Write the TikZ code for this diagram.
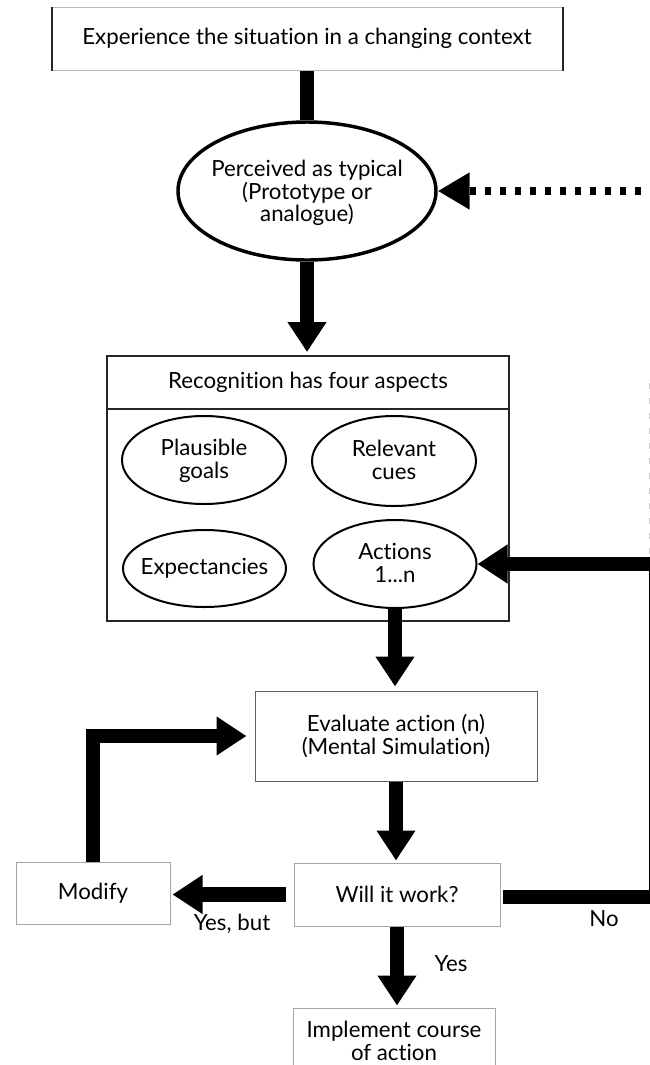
\documentclass[tikz,border=0pt]{standalone}
\usepackage{fontspec}
\setmainfont{Lato}[Ligatures=NoCommon]
\usetikzlibrary{shapes.geometric,arrows.meta,calc}
\begin{document}
\begin{tikzpicture}[x=0.75pt,y=-0.75pt,
  font=\fontsize{16.7pt}{17pt}\selectfont,
  box/.style={draw=gray!75!black, line width=0.75pt, rectangle, inner sep=0pt, align=center},
  recbox/.style={draw=black!85, line width=1.5pt, rectangle, inner sep=0pt, align=center},
  ell/.style={ellipse, draw=black, inner sep=0pt, line width=1.5pt},
  txt/.style={inner sep=0pt, align=center},
  bigarrow/.style={line width=11pt, line join=miter, -{Triangle[length=22.5pt,width=27.75pt]}},
  dotarrow/.style={line width=6pt, dash pattern=on 4.5pt off 6.75pt, -{Triangle[length=24pt,width=26.25pt]}},
]
\useasboundingbox (0,0) rectangle (650,1065);

% top box
\node[box, draw=gray!55, minimum width=382.5pt, minimum height=47.25pt] (top) at (307,38.5) {Experience the situation in a changing context};
\draw[line width=1.5pt, black!85] (top.north west) -- (top.south west);
\draw[line width=1.5pt, black!85] (top.north east) -- (top.south east);

% perceived ellipse
\node[ell, line width=2.6pt, minimum width=193.5pt, minimum height=103.5pt] (perc) at (307,191) {};
\node[txt] (perct) at (307,193) {Perceived as typical\\(Prototype or\\analogue)};

% recognition box
\node[recbox, minimum width=301.5pt, minimum height=198.75pt] (rec) at (308,488.5) {};
\node[recbox, minimum width=301.5pt, minimum height=39.75pt] (rechead) at (308,382.5) {Recognition has four aspects};

\node[ell, minimum width=123pt, minimum height=66pt] (pg) at (204,460) {};
\node[txt] (pgt) at (204,461) {Plausible\\goals};
\node[ell, minimum width=123pt, minimum height=67.5pt] (rc) at (394,461) {};
\node[txt] (rct) at (394,460) {Relevant\\cues};
\node[ell, minimum width=122.25pt, minimum height=57.75pt] (ex) at (204.5,568.5) {};
\node[txt] (ext) at (204.5,568.5) {Expectancies};
\node[ell, minimum width=122.25pt, minimum height=66pt] (ac) at (395,564) {};
\node[txt] (act) at (395,563) {Actions\\1...n};

% lower boxes
\node[box, minimum width=211.5pt, minimum height=67.5pt] (eval) at (396,736) {Evaluate action (n)\\(Mental Simulation)};
\node[box, draw=gray!70, minimum width=154.5pt, minimum height=47.25pt] (will) at (397,894.5) {Will it work?};
\node[box, draw=gray!70, minimum width=115.5pt, minimum height=46.5pt] (mod) at (93,893) {Modify};
\node[box, draw=gray!70, minimum width=151.5pt, minimum height=49.5pt] (impl) at (394,1041) {Implement course\\of action};

% labels
\node[txt] (yesbut) at (232,924) {Yes, but};
\node[txt] (no) at (604,919) {No};
\node[txt] (yes) at (451,964) {Yes};

% connectors
\draw[line width=11pt] (top.south) -- (perc.north);
\draw[bigarrow, shorten >=2.25pt] (perc.south) -- (perc.south |- rechead.north);

\coordinate (fb) at (662,560);
\draw[dotarrow] (fb) |- (perc.east);
\draw[gray!40, line width=0.75pt, dash pattern=on 4.5pt off 6.75pt] (649.5,383) -- (649.5,557);

\draw[bigarrow, shorten >=3pt] (ac.south) -- (ac.south |- eval.north);
\draw[bigarrow, shorten >=1.5pt] (eval.south) -- (eval.south |- will.north);
\draw[bigarrow, shorten <=6pt, shorten >=1.5pt] (will.west) -- (will.west -| mod.east);
\draw[bigarrow, shorten >=6pt] (mod.north) |- (eval.west);

\coordinate (nocorner) at (656.5,897);
\draw[bigarrow, shorten <=1.5pt] (will.east |- nocorner) -- (nocorner) |- (ac.east);
\draw[bigarrow, shorten >=1.5pt] (will.south) -- (will.south |- impl.north);
\end{tikzpicture}
\end{document}
